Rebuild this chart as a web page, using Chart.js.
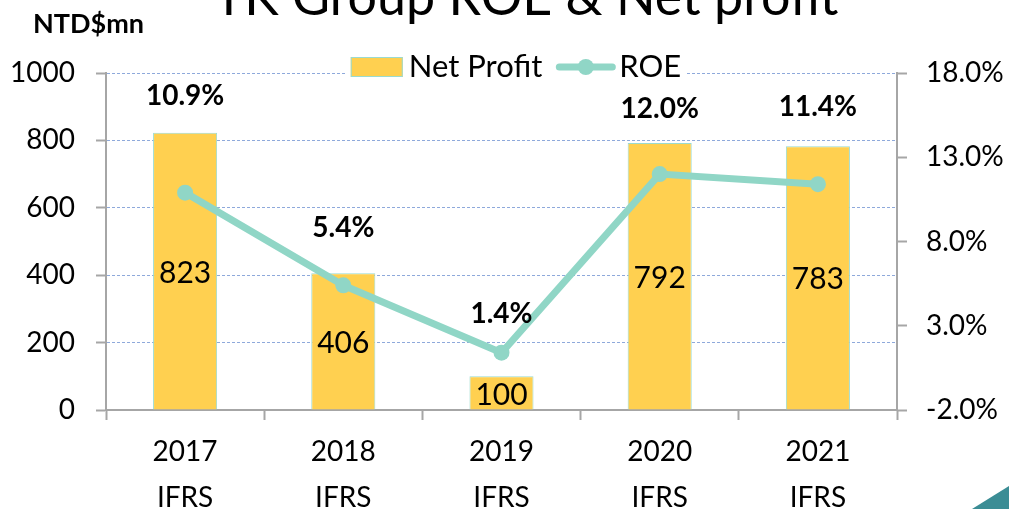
<!DOCTYPE html>
<html>
<head>
<meta charset="utf-8">
<title>TK Group ROE & Net profit</title>
<script src="https://cdn.jsdelivr.net/npm/chart.js@4.4.1/dist/chart.umd.min.js"></script>
<style>
  html, body { margin: 0; padding: 0; background: #fff; overflow: hidden; }
  #wrap { position: relative; width: 1009px; height: 509px; }
</style>
</head>
<body>
<div id="wrap"><canvas id="roeChart"></canvas></div>
<script>
// ---- data ----
const YEARS = ['2017', '2018', '2019', '2020', '2021'];
const BASIS = ['IFRS', 'IFRS', 'IFRS', 'IFRS', 'IFRS'];
const NET_PROFIT = [823, 406, 100, 792, 783];
const ROE = [10.9, 5.4, 1.4, 12.0, 11.4];
const PROFIT_TICKS = [0, 200, 400, 600, 800, 1000];
const ROE_TICKS = [-2, 3, 8, 13, 18];

// ---- style ----
const FONT = 'Lato, "Open Sans", sans-serif';
const BAR_FILL = '#FFD050';
const BAR_EDGE = '#9ADBD0';
const LINE_COLOR = '#90D6C6';
const AXIS_GRAY = '#A6A6A6';
const GRID_BLUE = '#8EA9DB';
// how far each ROE label sits above its point (moved by hand in the original)
const ROE_LABEL_LIFT = [97, 57, 39, 65, 77];

const labelsPlugin = {
  id: 'labels',
  afterDatasetsDraw(chart) {
    const { ctx } = chart;
    const lineMeta = chart.getDatasetMeta(0);
    const barMeta = chart.getDatasetMeta(1);
    ctx.save();
    ctx.fillStyle = '#000';
    ctx.textAlign = 'center';
    ctx.textBaseline = 'middle';

    // net profit values, centred in each bar
    ctx.font = `30px ${FONT}`;
    barMeta.data.forEach((bar, i) => {
      ctx.fillText(String(NET_PROFIT[i]), bar.x, (bar.y + bar.base) / 2 + 2);
    });

    // ROE values above the points
    ctx.font = `bold 28px ${FONT}`;
    lineMeta.data.forEach((pt, i) => {
      ctx.fillText(ROE[i].toFixed(1) + '%', pt.x, pt.y - ROE_LABEL_LIFT[i]);
    });
    ctx.restore();
  },
  afterDraw(chart) {
    const { ctx } = chart;
    ctx.save();
    ctx.fillStyle = '#000';

    // title, its top is cut off by the frame
    ctx.font = `52px ${FONT}`;
    ctx.textAlign = 'center';
    ctx.textBaseline = 'alphabetic';
    ctx.fillText('TK Group ROE & Net profit', 526, 15);

    // unit
    ctx.font = `bold 27px ${FONT}`;
    ctx.textAlign = 'left';
    ctx.fillText('NTD$mn', 33, 33);

    // legend over the top gridline
    ctx.font = `31px ${FONT}`;
    const t1 = 'Net Profit', t2 = 'ROE';
    const w1 = ctx.measureText(t1).width, w2 = ctx.measureText(t2).width;
    const total = 52 + 6 + w1 + 14 + 59 + 4 + w2;
    let x = 516 - total / 2;
    const cy = 67;
    ctx.fillStyle = '#fff';
    ctx.fillRect(x - 4, cy - 12, total + 8, 24);
    ctx.fillStyle = BAR_FILL;
    ctx.fillRect(x, cy - 10, 52, 20);
    ctx.strokeStyle = BAR_EDGE;
    ctx.lineWidth = 1;
    ctx.strokeRect(x + 0.5, cy - 9.5, 51, 19);
    x += 58;
    ctx.fillStyle = '#000';
    ctx.textBaseline = 'middle';
    ctx.fillText(t1, x, cy);
    x += w1 + 14;
    ctx.strokeStyle = LINE_COLOR;
    ctx.lineWidth = 7;
    ctx.lineCap = 'round';
    ctx.beginPath();
    ctx.moveTo(x + 3, cy);
    ctx.lineTo(x + 56, cy);
    ctx.stroke();
    ctx.fillStyle = LINE_COLOR;
    ctx.beginPath();
    ctx.arc(x + 29.5, cy, 8, 0, Math.PI * 2);
    ctx.fill();
    x += 63;
    ctx.fillStyle = '#000';
    ctx.fillText(t2, x, cy);

    // slide corner decoration
    ctx.fillStyle = '#3B8D95';
    ctx.beginPath();
    ctx.moveTo(972, 509);
    ctx.lineTo(1009, 486);
    ctx.lineTo(1009, 509);
    ctx.closePath();
    ctx.fill();
    ctx.restore();
  }
};

new Chart(document.getElementById('roeChart'), {
  data: {
    labels: YEARS.map((y, i) => [y, BASIS[i]]),
    datasets: [
      {
        type: 'line',
        label: 'ROE',
        data: ROE,
        yAxisID: 'y1',
        order: 1,
        borderColor: LINE_COLOR,
        backgroundColor: LINE_COLOR,
        borderWidth: 7,
        pointRadius: 8,
        pointBorderWidth: 0,
        pointBackgroundColor: LINE_COLOR,
        tension: 0
      },
      {
        type: 'bar',
        label: 'Net Profit',
        data: NET_PROFIT,
        yAxisID: 'y',
        order: 2,
        backgroundColor: BAR_FILL,
        borderColor: BAR_EDGE,
        borderWidth: 1,
        barPercentage: 0.405,
        categoryPercentage: 1
      }
    ]
  },
  options: {
    responsive: true,
    maintainAspectRatio: false,
    animation: false,
    layout: { padding: { top: 73, left: 0, right: 0, bottom: 0 } },
    plugins: { legend: { display: false }, tooltip: { enabled: false } },
    scales: {
      x: {
        offset: true,
        grid: {
          offset: true,
          drawOnChartArea: false,
          drawTicks: true,
          tickLength: 10,
          tickColor: AXIS_GRAY,
          tickWidth: 2
        },
        border: { color: AXIS_GRAY, width: 2 },
        ticks: {
          color: '#000',
          padding: 9,
          maxRotation: 0,
          font: { family: FONT, size: 28, lineHeight: 1.64 }
        },
        afterFit(scale) { scale.height = 99; }
      },
      y: {
        position: 'left',
        min: 0,
        max: 1000,
        afterBuildTicks(scale) { scale.ticks = PROFIT_TICKS.map(v => ({ value: v })); },
        grid: {
          color: (c) => (c.tick && c.tick.value === 0 ? 'rgba(0,0,0,0)' : GRID_BLUE),
          lineWidth: 1,
          tickLength: 10,
          tickColor: AXIS_GRAY,
          tickWidth: 2,
          tickBorderDash: []
        },
        border: { color: AXIS_GRAY, width: 2, dash: [3, 2] },
        ticks: {
          color: '#000',
          padding: 21,
          font: { family: FONT, size: 28 },
          callback: (v) => String(v)
        },
        afterFit(scale) { scale.width = 106; }
      },
      y1: {
        position: 'right',
        min: -2,
        max: 18,
        afterBuildTicks(scale) { scale.ticks = ROE_TICKS.map(v => ({ value: v })); },
        grid: {
          drawOnChartArea: false,
          tickLength: 10,
          tickColor: AXIS_GRAY,
          tickWidth: 2
        },
        border: { color: AXIS_GRAY, width: 2 },
        ticks: {
          color: '#000',
          padding: 19,
          font: { family: FONT, size: 28 },
          callback: (v) => Number(v).toFixed(1) + '%'
        },
        afterFit(scale) { scale.width = 112; }
      }
    }
  },
  plugins: [labelsPlugin]
});
</script>
</body>
</html>
